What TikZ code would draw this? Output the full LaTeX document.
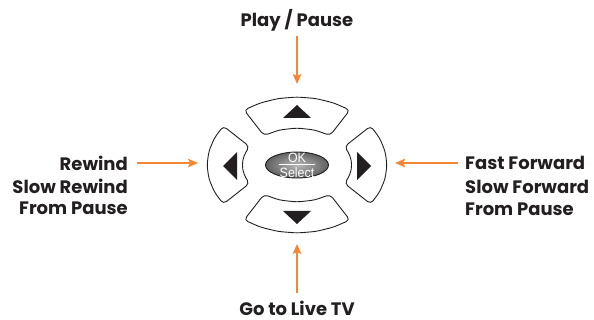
\documentclass[tikz,border=0pt]{standalone}
\usepackage{fontspec}
\setmainfont{Poppins}
\newfontfamily\okfont[FakeStretch=0.92]{Liberation Sans}
\usetikzlibrary{arrows.meta,shapes.geometric}
\definecolor{arroworange}{RGB}{245,134,52}
\definecolor{inkgray}{RGB}{35,31,32}

\begin{document}
\begin{tikzpicture}[x=1pt, y=-1pt,
  lbl/.style={font=\bfseries\fontsize{18}{20}\selectfont, text=inkgray, inner sep=0pt},
  pointer/.style={draw=arroworange, line width=1.8pt, -{Stealth[length=10pt, width=8.5pt, inset=2pt]}},
  button/.style={draw=inkgray, line width=0.9pt, fill=white, rounded corners=4pt, line join=round},
  glyph/.style={fill=inkgray},
  okbutton/.style={ellipse, draw=inkgray, line width=0.9pt, minimum width=63pt, minimum height=26pt,
    inner color=black!28, outer color=black!62},
  oktext/.style={font=\okfont\fontsize{13.5}{14}\selectfont, text=white, inner sep=0pt}
]
\useasboundingbox (0,0) rectangle (594,320);

% keypad ring: up, left, down, right
\foreach \a/\ho/\hi in {90/36/37, 180/35/30, 270/36/37, 0/35/30}
  \draw[button] plot[variable=\t, domain=\a-\ho:\a+\ho, samples=7] ({297+90*cos(\t)}, {165-68*sin(\t)})
    -- plot[variable=\t, domain=\a+\hi:\a-\hi, samples=5] ({297+55*cos(\t)}, {165-37*sin(\t)}) -- cycle;

% direction marks
\fill[glyph] (297,105) -- (283,118) -- (311,118) -- cycle;
\fill[glyph] (297,224) -- (283,211) -- (311,211) -- cycle;
\fill[glyph] (223,166) -- (237,152) -- (237,180) -- cycle;
\fill[glyph] (371,166) -- (357,152) -- (357,180) -- cycle;

% OK / Select
\node[okbutton] (ok) at (297,165) {};
\node[oktext] (oklbl) at (297,157.5) {OK};
\node[oktext] (selectlbl) at (297,172.5) {Select};
\draw[white, line width=0.8pt] (279,164.5) -- (315,164.5);

% labels
\node[lbl] (play) at (297,20) {Play / Pause};
\node[lbl, anchor=east] (rewind) at (128,163) {Rewind};
\node[lbl, anchor=east] (slowrew) at (128,186) {Slow Rewind};
\node[lbl, anchor=east] (rewpause) at (128,208) {From Pause};
\node[lbl, anchor=west] (ffwd) at (465,163) {Fast Forward};
\node[lbl, anchor=west] (slowfwd) at (465,187) {Slow Forward};
\node[lbl, anchor=west] (fwdpause) at (465,209) {From Pause};
\node[lbl] (live) at (297,308) {Go to Live TV};

\coordinate (uptip) at (297,84);
\coordinate (lefttip) at (198,164);
\coordinate (righttip) at (395,164);
\coordinate (downtip) at (297,244);

% pointers
\draw[pointer, shorten <=5pt] (play) -- (uptip);
\draw[pointer, shorten <=9pt] (rewind.east) -- (rewind.east -| lefttip);
\draw[pointer, shorten <=7pt] (ffwd.west) -- (ffwd.west -| righttip);
\draw[pointer, shorten <=8pt] (live) -- (downtip);
\end{tikzpicture}
\end{document}
